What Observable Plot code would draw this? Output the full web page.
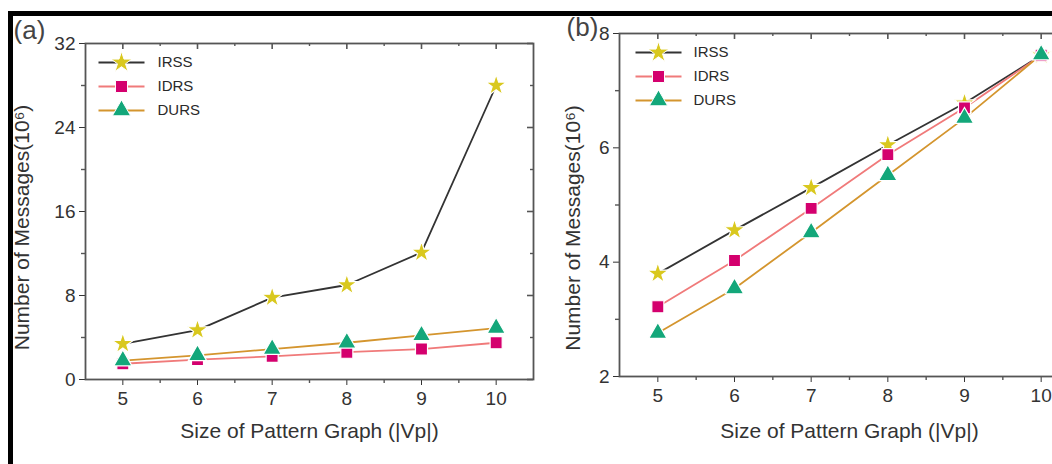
<!DOCTYPE html>
<html><head><meta charset="utf-8">
<script src="https://cdn.jsdelivr.net/npm/d3@7"></script>
<script src="https://cdn.jsdelivr.net/npm/@observablehq/plot@0.6"></script>
<style>
html,body{margin:0;padding:0;background:#fff;overflow:hidden;width:1052px;height:464px}
#wrap{position:relative;width:1052px;height:464px;overflow:hidden;background:#fff}
#pa{position:absolute;left:0;top:0;width:540px;height:464px}
#pb{position:absolute;left:540px;top:0;width:545px;height:464px}
.bar{position:absolute;background:#000}
svg{overflow:visible;max-width:none !important}
</style></head><body>
<div id="wrap"><div id="pa"></div><div id="pb"></div>
<div class="bar" style="left:8px;top:11px;width:1044px;height:5px"></div>
<div class="bar" style="left:8px;top:11px;width:5px;height:453px"></div>
</div>
<script>
// ---- data ----
const sizes = [5, 6, 7, 8, 9, 10];
const seriesNames = ["IRSS", "IDRS", "DURS"];
const aIRSS = [3.4, 4.7, 7.8, 9.0, 12.1, 28.0];
const aIDRS = [1.5, 1.9, 2.2, 2.6, 2.9, 3.5];
const aDURS = [1.8, 2.3, 2.9, 3.5, 4.2, 4.9];
const bIRSS = [3.8, 4.56, 5.3, 6.05, 6.78, 7.62];
const bIDRS = [3.22, 4.03, 4.94, 5.88, 6.7, 7.62];
const bDURS = [2.76, 3.54, 4.52, 5.52, 6.52, 7.63];
const xMinor = [5.5, 6.5, 7.5, 8.5, 9.5];
const aYTicks = [0, 8, 16, 24, 32];
const aYMinor = [4, 12, 20, 28];
const bYTicks = [2, 4, 6, 8];
const bYMinor = [3, 5, 7];
const xTitle = "Size of Pattern Graph (|Vp|)";
const yTitle = "Number of Messages(10\u2076)";

// ---- styles ----
const FONT = "'Liberation Sans', Arial, sans-serif";
const AX = "#555";
const lineColors = ["#333333", "#f07a7a", "#d4952e"];
const markColors = ["#d9c81e", "#d4006e", "#13a77a"];
const symbols = ["star", "square", "triangle"];
const radii = [6.6, 6.8, 6.8];
const lineSym = {draw(ctx) { ctx.moveTo(-23, 0); ctx.lineTo(23, 0); }};

function panel(o) {
  const plotW = o.width - o.ml - o.mr;
  const plotH = o.height - o.mt - o.mb;
  const rows = seriesNames.flatMap((s, i) => sizes.map((x, j) => ({series: s, i, x, y: o.vals[i][j]})));
  const marks = [
    Plot.frame({stroke: AX, strokeWidth: 1.8}),
    Plot.tickX(sizes, {x: d => d, stroke: AX, strokeWidth: 1.6, insetBottom: plotH - 6}),
    Plot.tickX(xMinor, {x: d => d, stroke: AX, strokeWidth: 1.4, insetBottom: plotH - 3}),
    Plot.tickX(xMinor, {x: d => d, stroke: AX, strokeWidth: 1.4, insetTop: plotH, insetBottom: -4}),
    Plot.tickY(o.yTicks, {y: d => d, stroke: AX, strokeWidth: 1.6, insetLeft: plotW - 6}),
    Plot.tickY(o.yMinor, {y: d => d, stroke: AX, strokeWidth: 1.4, insetLeft: plotW - 3}),
    Plot.tickY(o.yMinor, {y: d => d, stroke: AX, strokeWidth: 1.4, insetLeft: -4, insetRight: plotW}),
  ];
  seriesNames.forEach((s, i) => {
    const r = rows.filter(d => d.series === s);
    marks.push(Plot.line(r, {x: "x", y: "y", stroke: lineColors[i], strokeWidth: 1.8}));
  });
  seriesNames.forEach((s, i) => {
    const r = rows.filter(d => d.series === s);
    marks.push(Plot.dot(r, {x: "x", y: "y", symbol: symbols[i], r: radii[i], fill: markColors[i], stroke: "white", strokeWidth: 1.2}));
  });
  seriesNames.forEach((s, i) => {
    const dy = 19 + i * 24;
    marks.push(Plot.dot([s], {frameAnchor: "top-left", dx: o.legDx, dy, symbol: lineSym, fill: "none", stroke: lineColors[i], strokeWidth: 1.8}));
    marks.push(Plot.dot([s], {frameAnchor: "top-left", dx: o.legDx, dy, symbol: symbols[i], r: radii[i], fill: markColors[i], stroke: "white", strokeWidth: 1}));
    marks.push(Plot.text([s], {frameAnchor: "top-left", dx: o.legTx, dy, text: d => d, textAnchor: "start", lineAnchor: "middle", fontSize: 15, fontWeight: 500, fill: "#2a2a2a", fontFamily: "'Liberation Sans Narrow', 'Liberation Sans', Arial"}));
  });
  marks.push(Plot.text([xTitle], {frameAnchor: "bottom", dy: o.xtDy, text: d => d, textAnchor: "middle", lineAnchor: "middle", fontSize: 21, fill: "#333"}));
  marks.push(Plot.text([yTitle], {frameAnchor: "left", dx: o.ytDx, dy: o.ytDy, rotate: -90, text: d => d, textAnchor: "middle", lineAnchor: "middle", fontSize: 21, fill: "#333"}));
  marks.push(Plot.text([o.tag], {frameAnchor: "top-left", dx: o.tagDx, dy: o.tagDy, text: d => d, textAnchor: "middle", lineAnchor: "middle", fontSize: 26, fill: "#444"}));
  return Plot.plot({
    width: o.width, height: o.height,
    marginLeft: o.ml, marginRight: o.mr, marginTop: o.mt, marginBottom: o.mb,
    style: {fontFamily: FONT, fontSize: "19px", color: "#333", background: "transparent", overflow: "visible", maxWidth: "none"},
    x: {domain: [4.5, 10.5], ticks: sizes, tickSize: 6, tickPadding: 6, label: null, tickFormat: d => String(d)},
    y: {domain: o.yDomain, ticks: o.yTicks, tickSize: 6, tickPadding: 4, label: null, tickFormat: d => String(d)},
    marks
  });
}

document.getElementById("pa").appendChild(panel({
  width: 540, height: 464, ml: 85, mr: 7, mt: 43, mb: 85,
  vals: [aIRSS, aIDRS, aDURS], yDomain: [0, 32], yTicks: aYTicks, yMinor: aYMinor,
  legDx: 36, legTx: 72, xtDy: 52, ytDx: -63, ytDy: 16, tag: "(a)", tagDx: -56, tagDy: -13
}));
document.getElementById("pb").appendChild(panel({
  width: 545, height: 464, ml: 79, mr: 6, mt: 33, mb: 88,
  vals: [bIRSS, bIDRS, bDURS], yDomain: [2, 8], yTicks: bYTicks, yMinor: bYMinor,
  legDx: 39, legTx: 74, xtDy: 55, ytDx: -46, ytDy: 23, tag: "(b)", tagDx: -37, tagDy: -6
}));
</script>
</body></html>
